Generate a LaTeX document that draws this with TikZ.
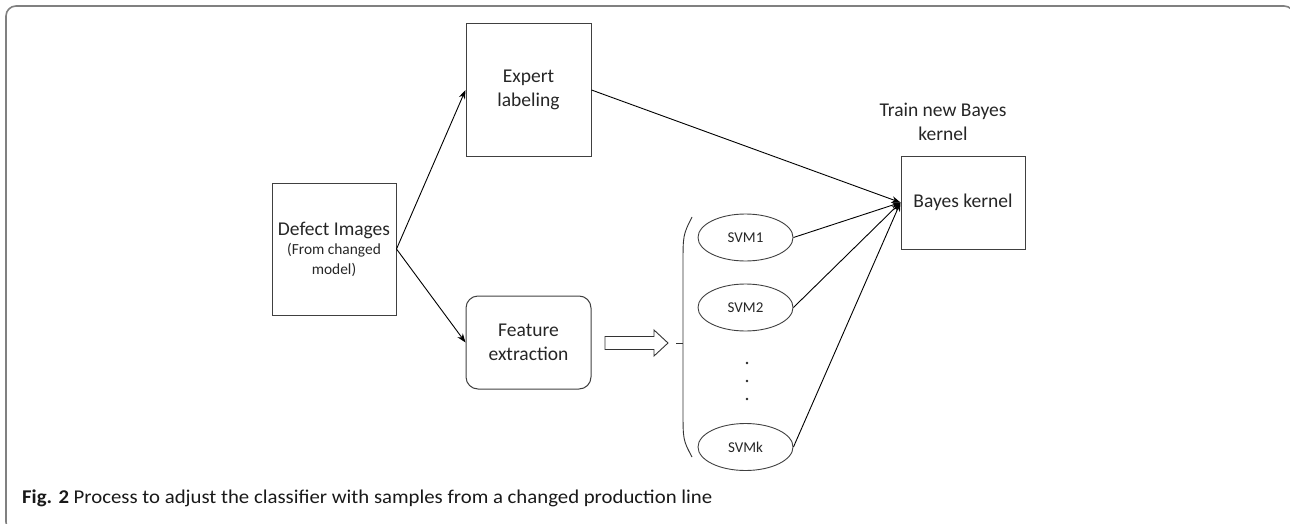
\documentclass[tikz,border=0pt]{standalone}
\usepackage{fontspec}
\setmainfont{Carlito}
\usetikzlibrary{arrows.meta,shapes.geometric}
\tikzset{
  box/.style={draw=black!75, line width=1pt, minimum width=124pt, inner sep=0pt, align=center, text=black!85},
  svm/.style={ellipse, draw=black!75, line width=0.9pt, minimum width=95pt, minimum height=47pt, inner sep=0pt, font=\fontsize{15}{18}\selectfont, text=black!85},
  conn/.style={draw=black, line width=0.9pt, -{Stealth[length=9pt,width=6.5pt]}},
  plain/.style={draw=black, line width=0.9pt},
  mainfont/.style={font=\fontsize{19.5}{24}\selectfont},
  frame/.style={draw=black!50, line width=1.6pt, rounded corners=10pt}
}
\begin{document}
\begin{tikzpicture}[x=1pt,y=-1pt]
\useasboundingbox (0,0) rectangle (1290,524);
\begin{scope}
  \clip (0,0) rectangle (1290,524);
  \draw[frame] (6,6) rectangle (1294,532);
\end{scope}

\node[box, minimum height=132pt, font=\fontsize{19.5}{20}\selectfont] (defect) at (334,249)
  {Defect Images\\[-1pt]{\fontsize{15.4}{22}\selectfont (From changed}\\{\fontsize{15.4}{22}\selectfont model)}};
\node[box, mainfont, minimum width=125pt, minimum height=132pt] (expert) at (528.5,90) {Expert\\labeling};
\node[box, mainfont, minimum width=125pt, minimum height=93pt, rounded corners=12pt] (feature) at (528.5,342.5) {Feature\\extraction};
\node[box, mainfont, minimum width=124pt, minimum height=93pt] (bayes) at (963,202.5) {Bayes kernel};
\node[mainfont, align=center, text=black!85, inner sep=0pt] (train) at (943,122) {Train new Bayes\\kernel};

\node[svm] (svm1) at (745.5,237.5) {SVM1};
\node[svm] (svm2) at (745.5,307.5) {SVM2};
\node[svm] (svmk) at (745.5,447) {SVMk};
\foreach \yy in {363,381,399} \fill[black!85] (747,\yy) circle (1.3pt);

\draw[conn] (defect.east) -- (expert.west);
\draw[conn] (defect.east) -- (feature.west);
\draw[conn] (expert.east) -- (bayes.west);
\draw[conn] (svm1.east) -- (bayes.west);
\draw[conn] (svm2.east) -- (bayes.west);
\draw[conn] (svmk.east) -- (bayes.west);

% hollow block arrow
\draw[draw=black!80, line width=0.9pt, fill=white] (605,336.5) -- (654,336.5) -- (654,330) -- (668,343) -- (654,356) -- (654,349.5) -- (605,349.5) -- cycle;
% bracket
\coordinate (brk) at (683,343);
\draw[plain, draw=black!80] (676,343) -- (brk);
\draw[plain, draw=black!80] (692,217) .. controls (683,235) .. (683,265) -- (683,410) .. controls (683,440) .. (692,457);

\node[anchor=base west, inner sep=0pt, text=black!90] (cap) at (22,503)
  {\resizebox{690pt}{\height}{\fontsize{19.5}{22}\selectfont\textbf{Fig. 2} Process to adjust the classifier with samples from a changed production line}};
\end{tikzpicture}
\end{document}
